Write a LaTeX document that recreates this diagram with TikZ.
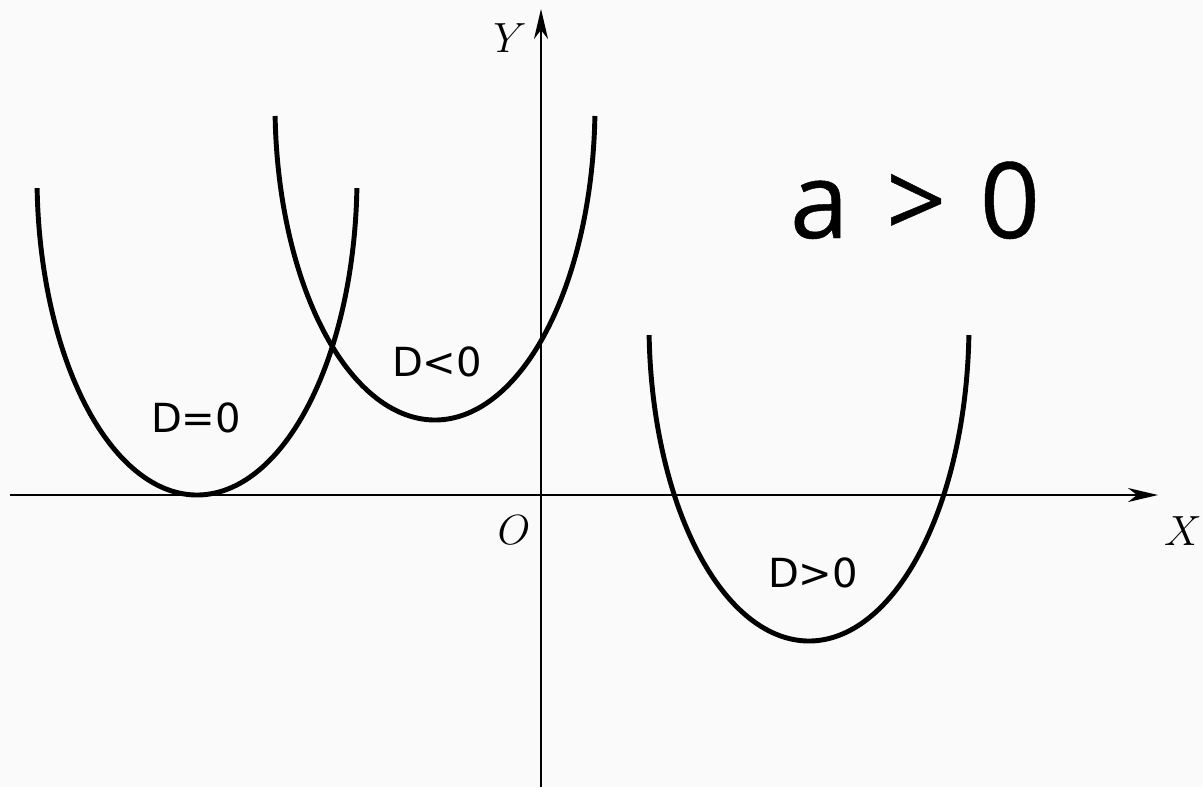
\documentclass[tikz,border=0pt]{standalone}
\usepackage{fontspec}
\newfontfamily\labfont{DejaVu Sans}
\newfontfamily\bigfont[FakeBold=0.4]{Open Sans}
\usetikzlibrary{arrows.meta}
\begin{document}
\begin{tikzpicture}[x=0.01cm,y=-0.01cm,
  axis/.style={line width=0.6pt,-{Stealth[length=0.3cm,width=0.14cm,inset=0.09cm]}},
  curve/.style={line width=1.4pt},
  dlab/.style={font=\labfont\fontsize{11.4}{13}\selectfont,inner sep=0pt,anchor=base},
  axlab/.style={font=\fontsize{12}{14}\selectfont,inner sep=0pt,anchor=base}]
\fill[black!2] (0,0) rectangle (1203,787);
\useasboundingbox (0,0) rectangle (1203,787);
% axes
\coordinate (xs) at (10,495);
\coordinate (xe) at (1158,495);
\coordinate (ys) at (541,787);
\coordinate (ye) at (541,9);
\draw[axis] (xs) -- (xe);
\draw[axis] (ys) -- (ye);
% parabolas
\draw[curve] plot[domain=182:358,samples=90,smooth] ({197+160*cos(\x)},{495-318-318*sin(\x)});
\draw[curve] plot[domain=182:358,samples=90,smooth] ({435+160*cos(\x)},{420-315-315*sin(\x)});
\draw[curve] plot[domain=182:358,samples=90,smooth] ({809+160*cos(\x)},{641-317-317*sin(\x)});
% labels
\node[dlab] (d0) at (196,432) {D=0};
\node[dlab] (dn) at (437,376) {D<0};
\node[dlab] (dp) at (813,587) {D>0};
\node[font=\bigfont\fontsize{30}{34}\selectfont,inner sep=0pt,anchor=base] (apos) at (915,238) {a\hspace{0.1cm} >\hspace{0.06cm} 0};
\node[axlab] (ylab) at (510,52) {$Y$};
\node[axlab] (xlab) at (1183,545) {$X$};
\node[axlab] (olab) at (514,544) {$O$};
\end{tikzpicture}
\end{document}
